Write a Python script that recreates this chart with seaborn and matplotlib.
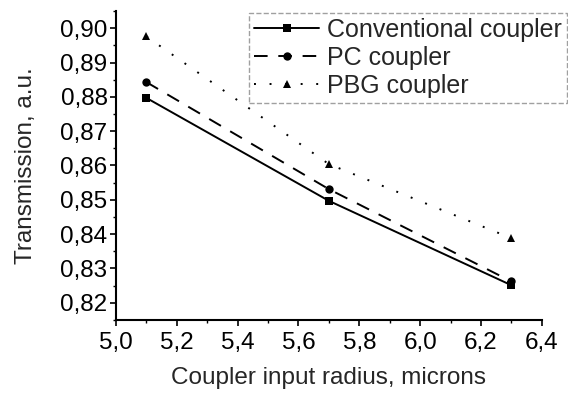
import matplotlib
matplotlib.use("Agg")
import matplotlib.pyplot as plt
import seaborn as sns
import pandas as pd
from matplotlib.ticker import FuncFormatter, MultipleLocator

radius = [5.1, 5.7, 6.3]
conventional = [0.8797, 0.8497, 0.8251]
pc = [0.8843, 0.8531, 0.8262]
pbg = [0.8976, 0.8604, 0.8388]
series_names = ["Conventional coupler", "PC coupler", "PBG coupler"]

df = pd.concat([
    pd.DataFrame({"x": radius, "y": conventional, "s": series_names[0]}),
    pd.DataFrame({"x": radius, "y": pc, "s": series_names[1]}),
    pd.DataFrame({"x": radius, "y": pbg, "s": series_names[2]}),
])

sns.set_theme(style="ticks")
plt.rcParams["font.family"] = ["Liberation Sans", "DejaVu Sans"]

FS = 17.5
fig = plt.figure(figsize=(5.68, 3.94), dpi=100)
ax = fig.add_axes([0.204, 0.188, 0.75, 0.784])

sns.lineplot(data=df, x="x", y="y", hue="s", style="s",
             palette=["black"] * 3,
             dashes={series_names[0]: "", series_names[1]: (7, 5.5), series_names[2]: (1, 7)},
             markers={series_names[0]: "s", series_names[1]: "o", series_names[2]: "^"},
             markersize=6, linewidth=1.4, markeredgewidth=0, ax=ax, legend=True)

ax.set_xlim(5.0, 6.4)
ax.set_ylim(0.815, 0.905)
ax.xaxis.set_major_locator(MultipleLocator(0.2))
ax.xaxis.set_minor_locator(MultipleLocator(0.1))
ax.yaxis.set_major_locator(MultipleLocator(0.01))
ax.yaxis.set_minor_locator(MultipleLocator(0.005))
ax.xaxis.set_major_formatter(FuncFormatter(lambda v, p: f"{v:.1f}".replace(".", ",")))
ax.yaxis.set_major_formatter(FuncFormatter(lambda v, p: f"{v:.2f}".replace(".", ",")))
ax.tick_params(which="major", direction="out", length=4, width=1.2, labelsize=FS, colors="black")
ax.tick_params(axis="y", which="major", pad=2)
ax.tick_params(axis="x", which="major", pad=5)
ax.tick_params(which="minor", direction="out", length=2, width=1, colors="black")
for s in ["top", "right"]:
    ax.spines[s].set_visible(False)
for s in ["left", "bottom"]:
    ax.spines[s].set_linewidth(1.5)
    ax.spines[s].set_color("black")

ax.set_xlabel("Coupler input radius, microns", fontsize=FS, labelpad=9)
ax.set_ylabel("Transmission, a.u.", fontsize=FS, labelpad=17)

leg = ax.legend(loc="upper left", bbox_to_anchor=(0.438, 0.968), bbox_transform=fig.transFigure,
                fontsize=18, frameon=True, fancybox=False, handlelength=2.6,
                handletextpad=0.3, borderpad=0.22, labelspacing=0.15, borderaxespad=0)
leg.get_frame().set_edgecolor("#888888")
leg.get_frame().set_linestyle("--")
leg.get_frame().set_linewidth(1)
leg.set_clip_on(False)

fig.savefig("out.png", dpi=100)
